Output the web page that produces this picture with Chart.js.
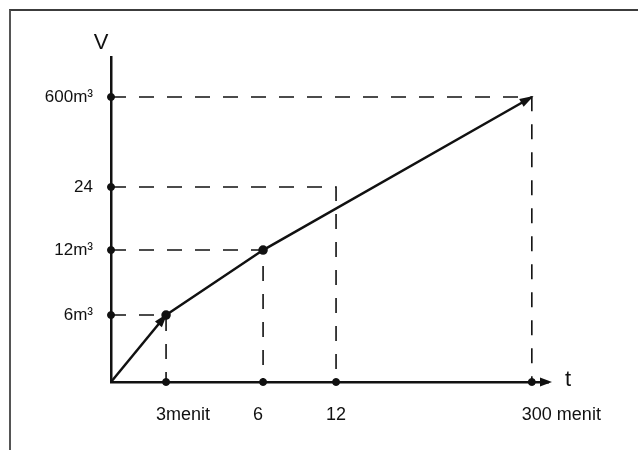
<!DOCTYPE html>
<html>
<head>
<meta charset="utf-8">
<script src="https://cdn.jsdelivr.net/npm/chart.js@4"></script>
<style>
  html, body { margin: 0; padding: 0; background: #fff; }
  #wrap { position: relative; width: 638px; height: 450px; }
  #frame { position: absolute; left: 9px; top: 9px; right: 0; bottom: 0;
           border-top: 2px solid #3c3c3c; border-left: 2px solid #555; }
  canvas { position: absolute; left: 0; top: 0; }
</style>
</head>
<body>
<div id="wrap">
  <div id="frame"></div>
  <canvas id="chart" width="638" height="450"></canvas>
</div>
<script>
// data
const times = [3, 6, 12, 300];              // menit
const volumes = [6, 12, 24, 600];           // m³
const timeLabels = ['3menit', '6', '12', '300 menit'];
const volumeLabels = ['6m³', '12m³', '24', '600m³'];
const startT = [0, 3];
const startV = [0, 6];
const mainT = [3, 6, 300];
const mainV = [6, 12, 600];

// the sketch is not to scale: value -> fraction of the axis length
const axisStops = {
  x: [[0, 0], [3, 0.126], [6, 0.348], [12, 0.515], [300, 0.963], [320, 1]],
  y: [[0, 0], [6, 0.206], [12, 0.406], [24, 0.6], [600, 0.877], [700, 1]]
};
const axisTicks = { x: times, y: volumes };

const ink = '#111';

// scale that maps values piecewise like the hand drawing
class SketchScale extends Chart.LinearScale {
  buildTicks() {
    return axisTicks[this.id].map(v => ({ value: v }));
  }
  _frac(v) {
    const s = axisStops[this.id];
    if (v <= s[0][0]) return s[0][1];
    for (let i = 1; i < s.length; i++) {
      if (v <= s[i][0]) {
        const r = (v - s[i - 1][0]) / (s[i][0] - s[i - 1][0]);
        return s[i - 1][1] + r * (s[i][1] - s[i - 1][1]);
      }
    }
    return s[s.length - 1][1];
  }
  getPixelForValue(v) {
    return this.getPixelForDecimal(this._frac(v));
  }
  getValueForPixel(p) {
    const d = this.getDecimalForPixel(p);
    const s = axisStops[this.id];
    for (let i = 1; i < s.length; i++) {
      if (d <= s[i][1]) {
        const r = (d - s[i - 1][1]) / (s[i][1] - s[i - 1][1]);
        return s[i - 1][0] + r * (s[i][0] - s[i - 1][0]);
      }
    }
    return s[s.length - 1][0];
  }
}
SketchScale.id = 'sketch';
SketchScale.defaults = Chart.LinearScale.defaults;
Chart.register(SketchScale);

function pts(xs, ys) {
  return xs.map((x, i) => ({ x: x, y: ys[i] }));
}

const datasets = [];

// dashed guides: axis -> point -> axis
times.forEach((t, i) => {
  datasets.push({
    data: [{ x: 0, y: volumes[i] }, { x: t, y: volumes[i] }, { x: t, y: 0 }],
    borderColor: ink,
    borderWidth: 1.6,
    borderDash: [15, 13],
    pointRadius: 0,
    tension: 0
  });
});

// first steep segment (arrow)
datasets.push({
  data: pts(startT, startV),
  borderColor: ink,
  borderWidth: 2.5,
  pointRadius: 0,
  arrow: true
});

// main line
datasets.push({
  data: pts(mainT, mainV),
  borderColor: ink,
  borderWidth: 2.5,
  pointRadius: [3.5, 3.5, 0],
  pointBackgroundColor: ink,
  pointBorderColor: ink,
  arrow: true
});

// dots on the axes
datasets.push({
  data: pts(times, times.map(() => 0)).concat(pts(volumes.map(() => 0), volumes)),
  showLine: false,
  pointRadius: 3.5,
  pointBackgroundColor: ink,
  pointBorderColor: ink
});

function arrowHead(c, x0, y0, x1, y1, len, half) {
  const ang = Math.atan2(y1 - y0, x1 - x0);
  c.save();
  c.translate(x1, y1);
  c.rotate(ang);
  c.beginPath();
  c.moveTo(2, 0);
  c.lineTo(-len, -half);
  c.lineTo(-len, half);
  c.closePath();
  c.fill();
  c.restore();
}

// axis names, arrowheads
const sketchLabels = {
  id: 'sketchLabels',
  afterDraw(chart) {
    const c = chart.ctx;
    const a = chart.chartArea;
    c.save();
    c.fillStyle = ink;
    chart.data.datasets.forEach((ds, i) => {
      if (!ds.arrow) return;
      const p = chart.getDatasetMeta(i).data;
      const q = p[p.length - 2], e = p[p.length - 1];
      arrowHead(c, q.x, q.y, e.x, e.y, 12, 4.5);
    });
    c.textAlign = 'center';
    c.textBaseline = 'middle';
    c.font = '22px "Liberation Sans"';
    c.fillText('V', a.left - 10, a.top - 14);
    c.fillText('t', a.right + 20, a.bottom - 2);
    arrowHead(c, a.left, a.bottom, a.right + 2, a.bottom, 10, 4.5);
    c.restore();
  }
};

new Chart(document.getElementById('chart'), {
  type: 'line',
  data: { datasets: datasets },
  options: {
    responsive: false,
    animation: false,
    clip: false,
    layout: { padding: { top: 57, right: 90, bottom: 0, left: 0 } },
    plugins: { legend: { display: false }, tooltip: { enabled: false } },
    scales: {
      x: {
        type: 'sketch',
        min: 0,
        max: 320,
        grid: { display: false },
        border: { display: true, color: ink, width: 2.5 },
        ticks: {
          autoSkip: false,
          maxRotation: 0,
          align: 'start',
          labelOffset: -10,
          padding: 14,
          color: ink,
          font: { family: 'Liberation Sans', size: 18 },
          callback: (v, i) => timeLabels[i]
        },
        afterFit: s => { s.height = 68; }
      },
      y: {
        type: 'sketch',
        min: 0,
        max: 700,
        grid: { display: false },
        border: { display: true, color: ink, width: 2.5 },
        ticks: {
          autoSkip: false,
          padding: 10,
          color: ink,
          font: { family: 'Liberation Sans', size: 17 },
          callback: (v, i) => volumeLabels[i]
        },
        afterFit: s => { s.width = 111; }
      }
    }
  },
  plugins: [sketchLabels]
});
</script>
</body>
</html>
